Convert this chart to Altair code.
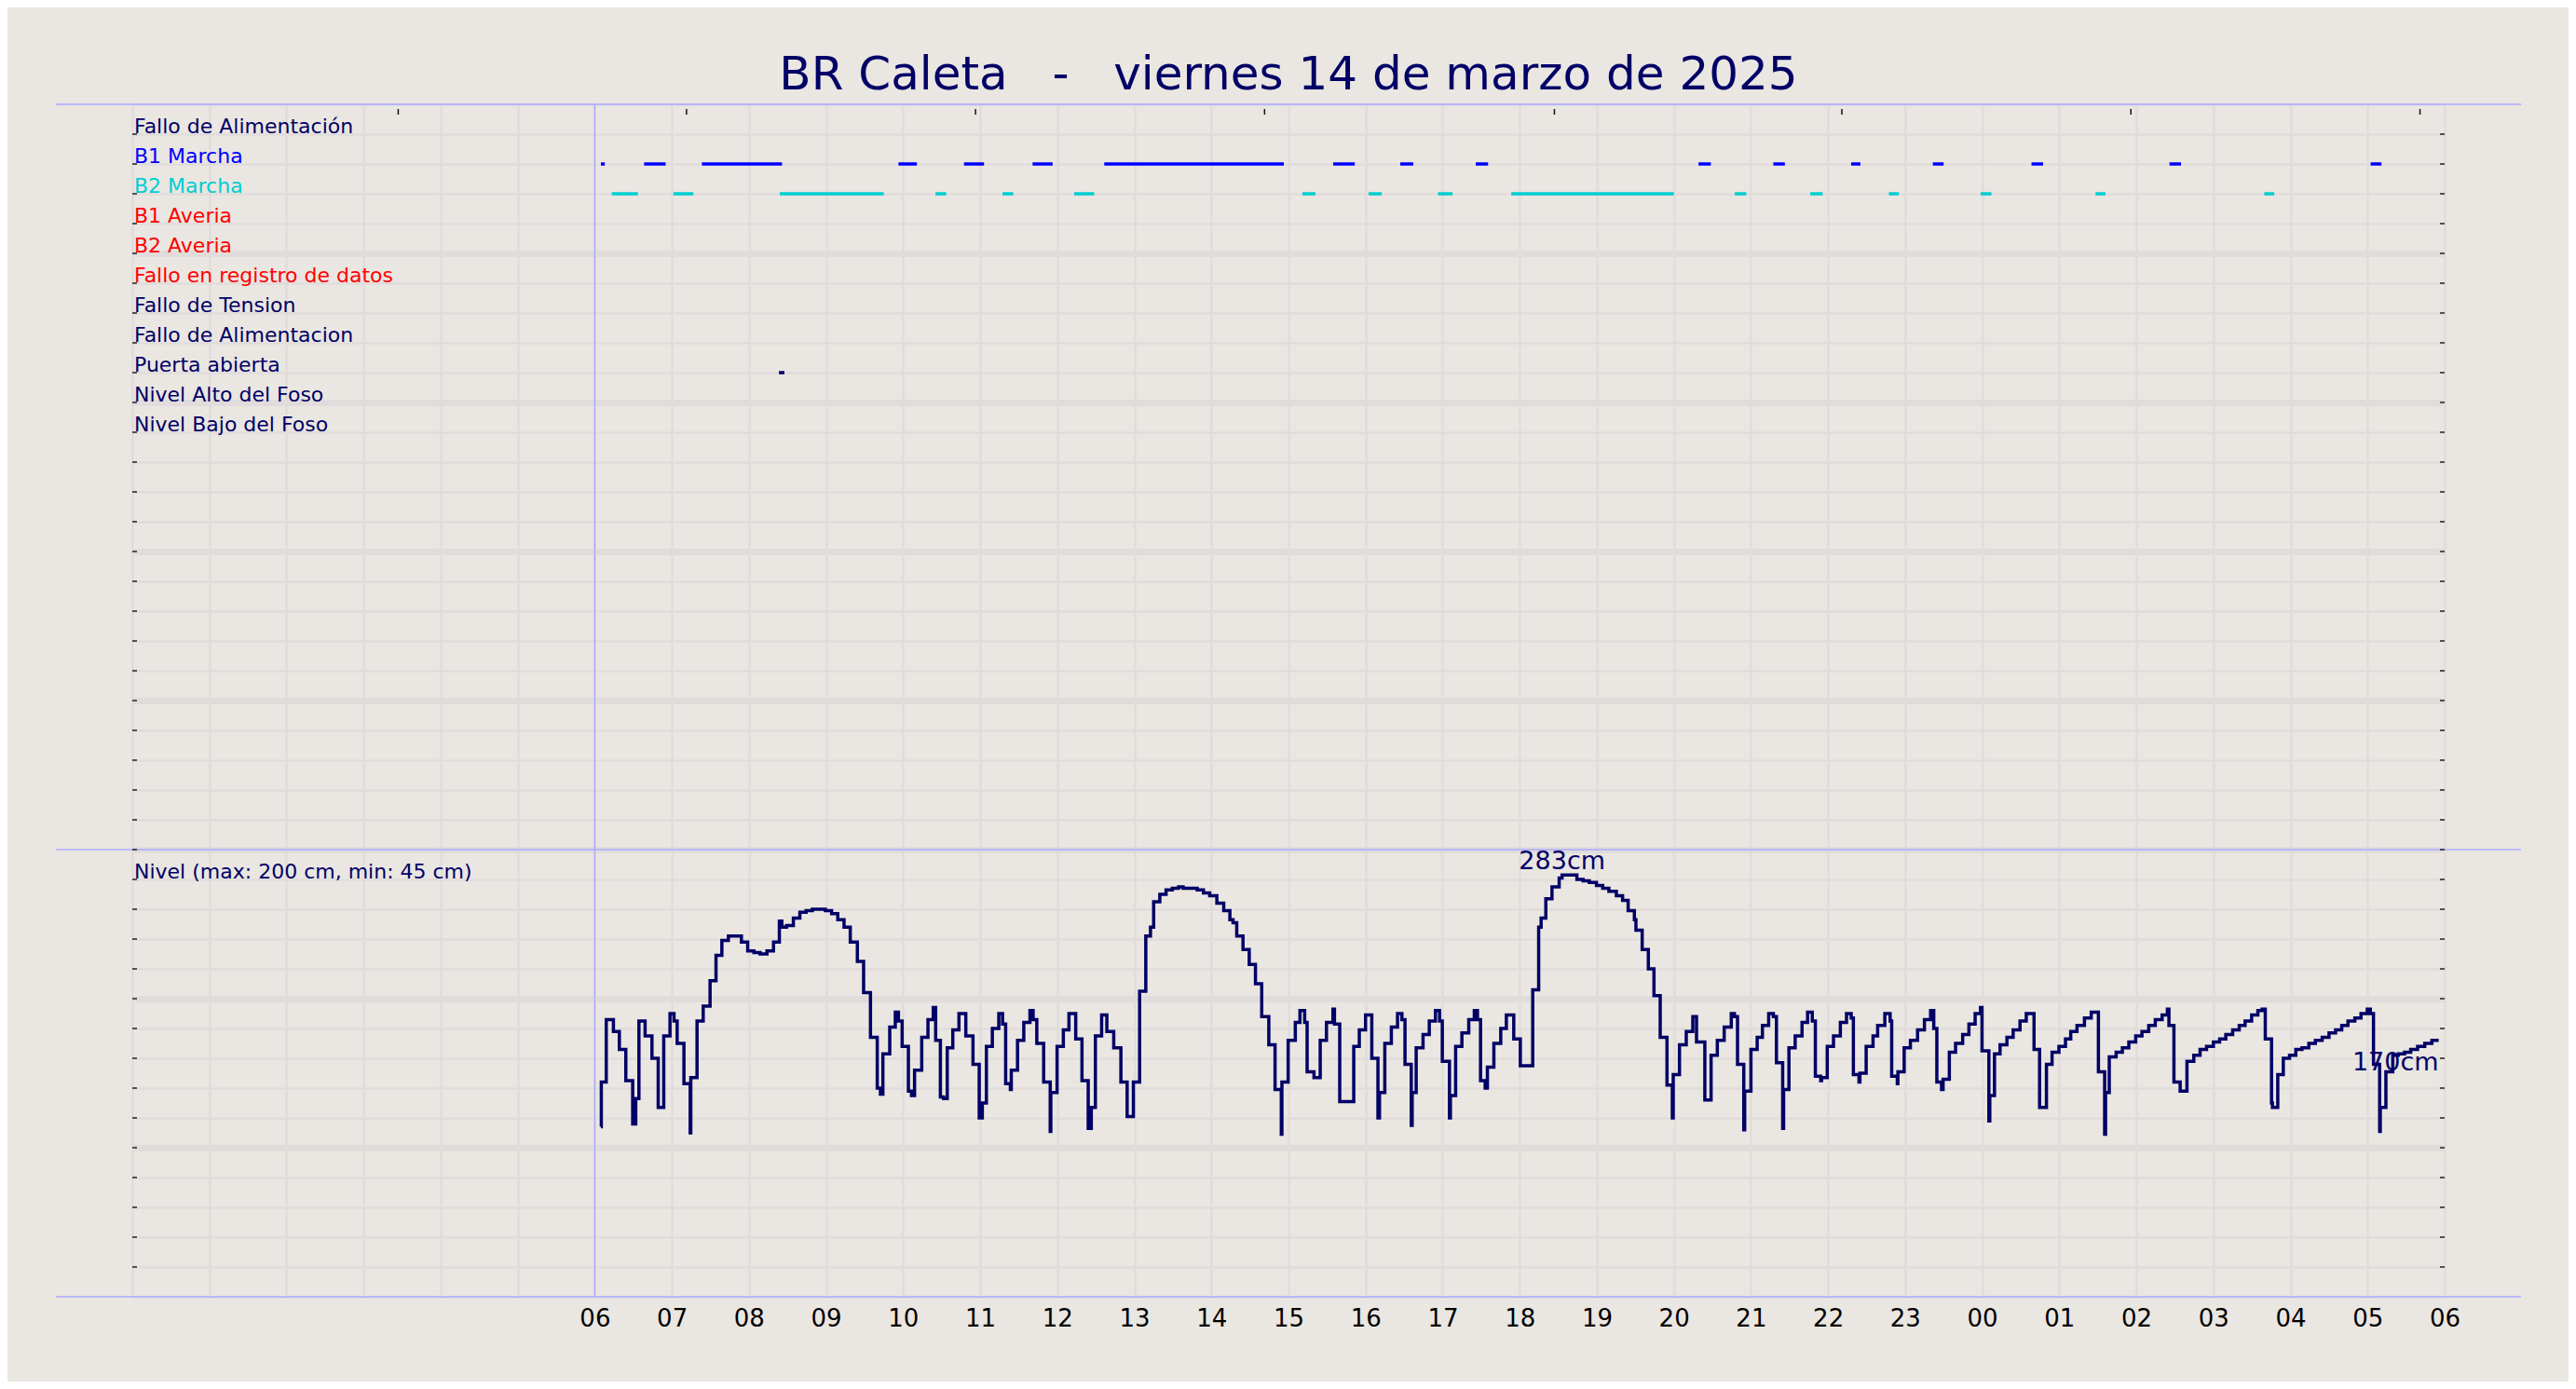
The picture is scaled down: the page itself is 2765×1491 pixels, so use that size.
import altair as alt
import pandas as pd

NAVY = "#000066"
BLUE = "#0000FF"
CYAN = "#00CED1"
RED = "#FF0000"
LAV = "#AAAAFF"
BG = "#EAE6E1"
GRID = "#E1DCDB"

SP = "\u00a0" * 3
title_text = f"BR Caleta{SP}-{SP}viernes 14 de marzo de 2025"

event_labels = ["Fallo de Alimentación", "B1 Marcha", "B2 Marcha", "B1 Averia",
                "B2 Averia", "Fallo en registro de datos", "Fallo de Tension",
                "Fallo de Alimentacion", "Puerta abierta", "Nivel Alto del Foso",
                "Nivel Bajo del Foso"]
label_colors = [NAVY, BLUE, CYAN, RED, RED, RED, NAVY, NAVY, NAVY, NAVY, NAVY]

nivel_label = "Nivel (max: 200 cm, min: 45 cm)"

b1_start = [6.08, 6.64, 7.39, 9.94, 10.79, 11.68, 12.61, 15.58, 16.45, 17.43,
            20.32, 21.29, 22.30, 23.36, 24.64, 26.43, 29.04]
b1_end = [6.13, 6.92, 8.43, 10.18, 11.05, 11.94, 14.94, 15.86, 16.62, 17.59,
          20.48, 21.44, 22.42, 23.50, 24.79, 26.58, 29.18]
b2_start = [6.22, 7.02, 8.40, 10.42, 11.29, 12.22, 15.18, 16.04, 16.94, 17.89,
            20.79, 21.77, 22.79, 23.98, 25.47, 27.66]
b2_end = [6.56, 7.28, 9.75, 10.56, 11.43, 12.48, 15.35, 16.21, 17.13, 20.00,
          20.94, 21.93, 22.92, 24.12, 25.60, 27.79]
puerta_start = [8.39]
puerta_end = [8.46]

level_hours = [
    6.080, 6.085, 6.149, 6.242, 6.319, 6.403, 6.492, 6.532, 6.573, 6.653, 6.742, 6.823,
    6.895, 6.976, 7.028, 7.069, 7.157, 7.238, 7.246, 7.327, 7.407, 7.496, 7.573, 7.649,
    7.734, 7.903, 7.984, 8.065, 8.145, 8.234, 8.319, 8.395, 8.427, 8.488, 8.577, 8.661,
    8.742, 8.823, 8.992, 9.073, 9.153, 9.234, 9.315, 9.407, 9.488, 9.577, 9.665, 9.706,
    9.738, 9.827, 9.899, 9.940, 9.988, 10.069, 10.109, 10.149, 10.242, 10.323, 10.391,
    10.423, 10.484, 10.524, 10.573, 10.645,
    10.725, 10.814, 10.907, 10.988, 11.028, 11.081, 11.158, 11.242, 11.291, 11.331,
    11.392, 11.404, 11.485, 11.566, 11.646, 11.687, 11.735, 11.824, 11.909, 11.917,
    11.998, 12.079, 12.152, 12.240, 12.321, 12.402, 12.442, 12.495, 12.576, 12.644,
    12.733, 12.826, 12.907, 12.988, 13.069, 13.149, 13.210, 13.251, 13.331, 13.412,
    13.493, 13.574, 13.634, 13.816, 13.897, 13.978, 14.071, 14.160, 14.240, 14.281,
    14.329, 14.410, 14.491, 14.572, 14.653, 14.745, 14.826, 14.907, 14.915, 14.996,
    15.089, 15.149, 15.210, 15.242, 15.331, 15.412, 15.493,
    15.577, 15.597, 15.665, 15.847, 15.919, 16.000, 16.081, 16.161, 16.181, 16.250,
    16.335, 16.415, 16.472, 16.512, 16.593, 16.605, 16.657, 16.746, 16.827, 16.907,
    16.960, 16.996, 17.089, 17.101, 17.169, 17.250, 17.339, 17.411, 17.452, 17.492,
    17.552, 17.581, 17.665, 17.754, 17.827, 17.923, 18.008, 18.169, 18.246, 18.278,
    18.339, 18.419, 18.512, 18.550, 18.742, 18.823, 18.903, 18.996, 19.077, 19.157,
    19.254, 19.335, 19.407, 19.488, 19.508, 19.589, 19.669, 19.742, 19.823, 19.911,
    19.980, 19.992, 20.073, 20.161, 20.246, 20.294,
    20.402, 20.483, 20.564, 20.653, 20.745, 20.786, 20.826, 20.907, 20.919, 21.000,
    21.081, 21.149, 21.230, 21.291, 21.331, 21.412, 21.424, 21.493, 21.574, 21.663,
    21.735, 21.796, 21.836, 21.905, 21.917, 21.990, 22.071, 22.160, 22.240, 22.301,
    22.329, 22.402, 22.414, 22.495, 22.584, 22.644, 22.737, 22.806, 22.826, 22.899,
    22.907, 22.988, 23.069, 23.162, 23.251, 23.331, 23.372, 23.412, 23.473, 23.493,
    23.574, 23.655, 23.747, 23.828, 23.909, 23.978, 23.998, 24.087, 24.099, 24.160,
    24.232, 24.321, 24.402, 24.491, 24.572, 24.673, 24.745, 24.834, 24.907, 24.996,
    25.081, 25.149, 25.230,
    25.327, 25.415, 25.508, 25.589, 25.601, 25.649, 25.738, 25.819, 25.903, 25.992,
    26.073, 26.161, 26.246, 26.335, 26.403, 26.423, 26.488, 26.569, 26.657, 26.746,
    26.827, 26.911, 27.000, 27.081, 27.161, 27.250, 27.335, 27.411, 27.496, 27.577,
    27.633, 27.673, 27.754, 27.766, 27.835, 27.907, 27.988, 28.069, 28.149, 28.238,
    28.323, 28.411, 28.500, 28.585, 28.665, 28.746, 28.835, 28.915, 28.996, 29.036,
    29.077, 29.157, 29.165, 29.238, 29.327, 29.399, 29.480, 29.560, 29.649, 29.742,
    29.835, 29.923,
]
level_cm = [
    114, 144, 186, 178, 166, 145, 116, 133, 185, 175, 160, 127,
    175, 190, 185, 170, 143, 110, 147, 185, 195, 212, 229, 239,
    242, 238, 232, 231, 230, 232, 238, 252, 248, 249, 254, 258,
    259, 260, 259, 257, 253, 248, 238, 225, 204, 174, 140, 136,
    163, 181, 191, 185, 168, 138, 135, 152, 174, 186, 194,
    172, 134, 133, 167, 179,
    190, 175, 156, 120, 130, 168, 180, 190, 183, 143,
    139, 152, 172, 184, 192, 186, 170, 144, 111, 137,
    168, 179, 190, 173, 145, 113, 127, 175, 189, 178,
    167, 144, 121, 144, 205, 242, 248, 265, 270, 273,
    274, 275, 274, 273, 271, 269, 264, 259, 253, 251,
    242, 233, 223, 210, 188, 169, 139, 109, 144, 172,
    184, 192, 184, 151, 147, 172, 184,
    193, 183, 131, 168, 179, 189, 160, 120, 137, 170,
    181, 190, 186, 156, 115, 137, 167, 176, 185, 192,
    185, 158, 120, 135, 168, 177, 186, 192, 186, 145,
    140, 154, 170, 180, 189, 173, 155, 206, 248, 254,
    267, 275, 281, 283, 280, 279, 278, 276, 274, 272,
    269, 266, 259, 253, 246, 233, 220, 202, 174, 142,
    120, 149, 169, 178, 188, 171,
    132, 162, 172, 181, 190, 188, 156, 112, 138, 166,
    174, 182, 190, 188, 157, 113, 139, 167, 175, 184,
    191, 185, 148, 145, 147, 168, 175, 184, 190, 187,
    149, 144, 150, 168, 175, 182, 190, 185, 148, 143,
    151, 167, 172, 179, 186, 192, 180, 144, 139, 146,
    164, 170, 176, 183, 190, 194, 165, 118, 135, 163,
    169, 174, 179, 185, 190, 166, 127, 156, 164, 168,
    173, 178, 182,
    187, 191, 151, 109, 137, 161, 164, 167, 171, 175,
    178, 182, 186, 189, 193, 182, 144, 138, 158, 162,
    166, 168, 171, 173, 176, 179, 182, 185, 189, 192,
    193, 173, 130, 127, 149, 160, 162, 166, 167, 170,
    172, 174, 177, 179, 182, 185, 187, 190, 193, 190,
    156, 111, 127, 151, 162, 163, 164, 166, 168, 170,
    172, 172,
]
last_label = "170cm"

hour_ticks = list(range(0, 31))
first_labeled_hour = 6
top_tick_hours = [3.45, 7.19, 10.94, 14.69, 18.45, 22.18, 25.93, 29.68]
row_step = 20
y_max = 800
panel_split = 300
nivel_row = 280

W, H = 2482, 1280

xs = alt.Scale(domain=[0, 30], nice=False, zero=False)
ys = alt.Scale(domain=[0, y_max], nice=False, zero=False)

x_axis = alt.Axis(
    values=hour_ticks, title=None, grid=True, gridColor=GRID, gridWidth=2.5,
    ticks=False, domain=False, labelPadding=10, labelFontSize=26,
    labelFont="DejaVu Sans", labelColor="#000000", labelFlush=False,
    labelOverlap=False,
    labelExpr=f"datum.value < {first_labeled_hour} ? '' : ((datum.value % 24) < 10 ? '0' : '') + (datum.value % 24)",
)
y_axis = alt.Axis(
    values=list(range(0, y_max + 1, row_step)), title=None, grid=True,
    gridColor=GRID,
    gridWidth={"condition": {"test": f"datum.value % 100 === 0 && datum.value > 0 && datum.value < {y_max}", "value": 7}, "value": 2.5},
    ticks=False, domain=False, labels=False,
)


def X(field):
    return alt.X(field, scale=xs, axis=x_axis, title=None)


def Y(field):
    return alt.Y(field, scale=ys, axis=y_axis, title=None)


level_df = pd.DataFrame({"h": level_hours, "v": level_cm})
line = alt.Chart(level_df).mark_line(
    interpolate="step-after", color=NAVY, strokeWidth=3.5
).encode(x=X("h:Q"), y=Y("v:Q"))

# events
ev_rows = []
for name, s, e in [("B1 Marcha", b1_start, b1_end), ("B2 Marcha", b2_start, b2_end),
                   ("Puerta abierta", puerta_start, puerta_end)]:
    yv = y_max - row_step * (event_labels.index(name) + 1)
    for a, b in zip(s, e):
        ev_rows.append({"label": name, "h": a, "e": b, "v": yv})
ev_df = pd.DataFrame(ev_rows)
color_scale = alt.Scale(domain=event_labels, range=label_colors)
events = alt.Chart(ev_df).mark_rule(strokeWidth=3.5).encode(
    x=X("h:Q"), x2="e:Q", y=Y("v:Q"),
    color=alt.Color("label:N", scale=color_scale, legend=None),
)

lab_df = pd.DataFrame({"label": event_labels,
                       "v": [y_max - row_step * (i + 1) for i in range(len(event_labels))]})
labels = alt.Chart(lab_df).mark_text(
    align="left", baseline="alphabetic", fontSize=22, font="DejaVu Sans", dy=-1
).encode(
    x=alt.value(2), y=Y("v:Q"), text="label:N",
    color=alt.Color("label:N", scale=color_scale, legend=None),
)

niv_df = pd.DataFrame({"label": [nivel_label], "v": [nivel_row]})
nivel = alt.Chart(niv_df).mark_text(
    align="left", baseline="alphabetic", fontSize=22, font="DejaVu Sans", dy=-1, color=NAVY
).encode(x=alt.value(2), y=Y("v:Q"), text="label:N")

# annotations
imax = level_cm.index(max(level_cm))
max_df = pd.DataFrame({"h": [level_hours[imax]], "v": [level_cm[imax]],
                       "t": [f"{level_cm[imax]}cm"]})
max_txt = alt.Chart(max_df).mark_text(
    align="center", baseline="alphabetic", fontSize=27, font="DejaVu Sans", dy=-6, color=NAVY
).encode(x=X("h:Q"), y=Y("v:Q"), text="t:N")

last_df = pd.DataFrame({"h": [level_hours[-1]], "v": [level_cm[-1]], "t": [last_label]})
last_txt = alt.Chart(last_df).mark_text(
    align="right", baseline="alphabetic", fontSize=27, font="DejaVu Sans", dy=32, color=NAVY
).encode(x=X("h:Q"), y=Y("v:Q"), text="t:N")

# frame lines
hl_df = pd.DataFrame({"v": [0, panel_split, y_max]})
hlines = alt.Chart(hl_df).mark_rule(color=LAV, strokeWidth=1.5).encode(
    y=Y("v:Q"), x=alt.value(-82), x2=alt.value(W + 82))
vl_df = pd.DataFrame({"h": [first_labeled_hour]})
vline = alt.Chart(vl_df).mark_rule(color=LAV, strokeWidth=1.5).encode(x=X("h:Q"))

tick_df = pd.DataFrame({"v": list(range(row_step, y_max, row_step))})
lticks = alt.Chart(tick_df).mark_rule(color="#222222", strokeWidth=1.5).encode(
    y=Y("v:Q"), x=alt.value(0), x2=alt.value(5))
rticks = alt.Chart(tick_df).mark_rule(color="#222222", strokeWidth=1.5).encode(
    y=Y("v:Q"), x=alt.value(W - 5), x2=alt.value(W))
tt_df = pd.DataFrame({"h": top_tick_hours})
tticks = alt.Chart(tt_df).mark_rule(color="#111111", strokeWidth=1.5).encode(
    x=X("h:Q"), y=alt.value(5), y2=alt.value(11))

chart = alt.layer(
    line, hlines, vline, lticks, rticks, tticks, events, labels, nivel, max_txt, last_txt
).properties(
    width=W, height=H,
    title=alt.TitleParams(title_text, fontSize=50, font="DejaVu Sans", fontWeight="normal",
                          color=NAVY, anchor="middle", frame="group",
                          baseline="bottom", offset=4, dy=49),
    autosize=alt.AutoSizeParams(type="none"),
    padding={"left": 134, "top": 104, "right": 133, "bottom": 91},
    background=BG,
).configure_view(stroke=None, fill=BG)

chart.save("out.html", embed_options={"renderer": "svg", "actions": False})
